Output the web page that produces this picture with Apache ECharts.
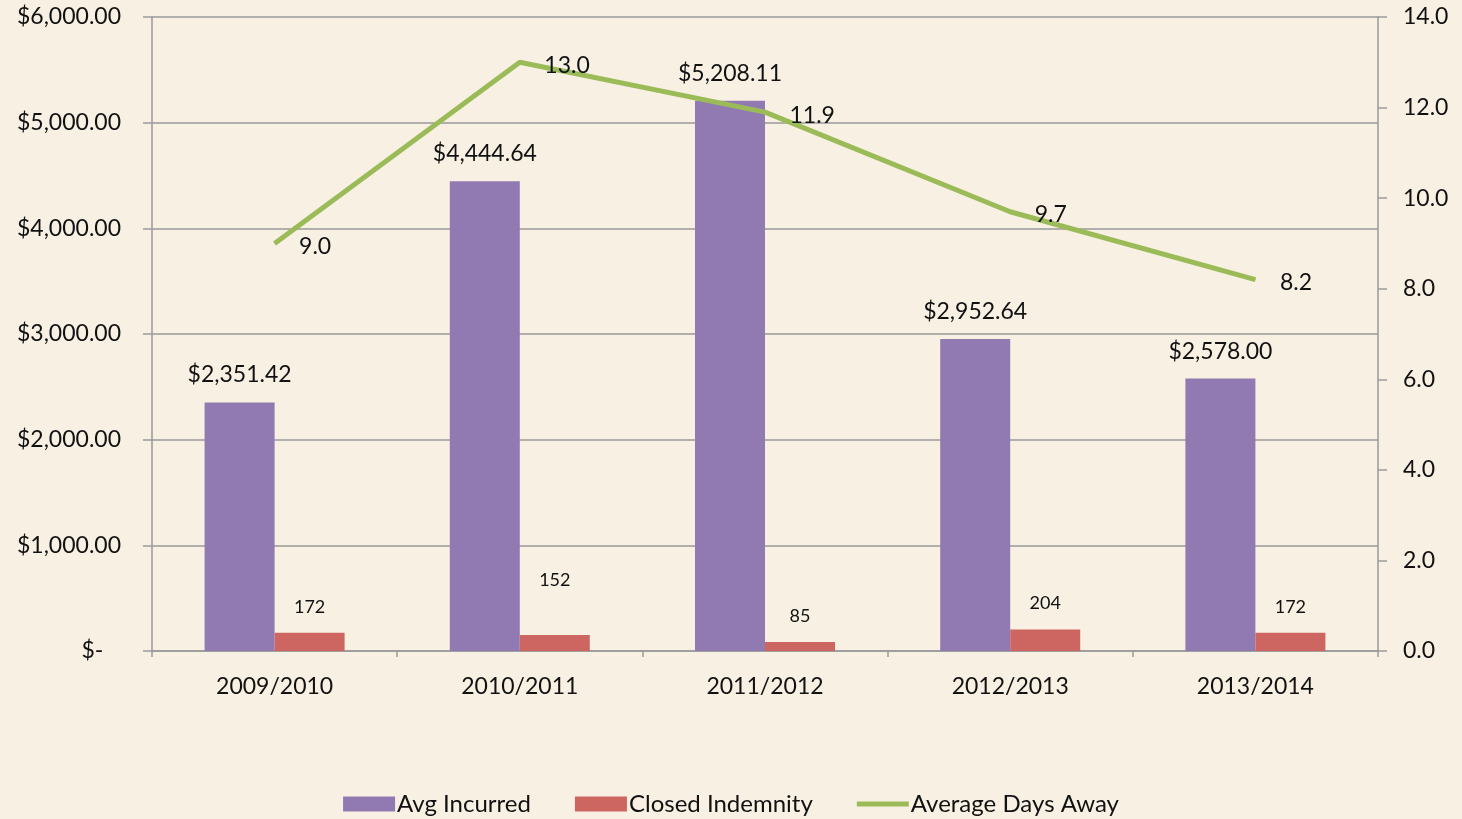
<!DOCTYPE html>
<html>
<head>
<meta charset="utf-8">
<script src="https://cdn.jsdelivr.net/npm/echarts@6/dist/echarts.min.js"></script>
<style>
  html, body { margin: 0; padding: 0; background: #f8f0e3; }
  #chart { width: 1462px; height: 819px; }
</style>
</head>
<body>
<div id="chart"></div>
<script>
  const categories = ['2009/2010', '2010/2011', '2011/2012', '2012/2013', '2013/2014']
  const avgIncurred = [2351.42, 4444.64, 5208.11, 2952.64, 2578.00]
  const closedIndemnity = [172, 152, 85, 204, 172]
  const avgDaysAway = [9.0, 13.0, 11.9, 9.7, 8.2]
  // label distance above the red bars (152 sits higher in the original)
  const closedLabelDist = [17, 46, 17, 17, 17]

  const font = 'Lato, "Open Sans", sans-serif'
  const grey = '#9a9a9a'

  const money = v => {
    if (v === 0) return '$-   '
    return '$' + v.toLocaleString('en-US', { minimumFractionDigits: 2, maximumFractionDigits: 2 })
  }

  const mychart = echarts.init(document.getElementById('chart'))
  const option = {
    backgroundColor: '#f8f0e3',
    textStyle: { fontFamily: font, color: '#111' },
    grid: { left: 152, right: 84, top: 17, bottom: 168, containLabel: false },
    legend: {
      bottom: -2,
      left: 'center',
      itemWidth: 52,
      itemHeight: 15,
      itemGap: 44,
      textStyle: { fontSize: 24, fontFamily: font, color: '#111', padding: [0, 0, 0, -3] },
      data: [
        { name: 'Avg Incurred', icon: 'rect' },
        { name: 'Closed Indemnity', icon: 'rect' },
        { name: 'Average Days Away', icon: 'path://M0,0 L52,0 L52,5 L0,5 Z', itemStyle: { color: '#9bbb59' } }
      ]
    },
    xAxis: {
      type: 'category',
      data: categories,
      boundaryGap: true,
      axisLine: { lineStyle: { color: grey, width: 1.5 } },
      axisTick: { show: true, length: 6, lineStyle: { color: grey, width: 1.5 } },
      axisLabel: { fontSize: 23, color: '#111', margin: 24, fontFamily: font }
    },
    yAxis: [
      {
        type: 'value',
        min: 0,
        max: 6000,
        interval: 1000,
        axisLine: { show: true, lineStyle: { color: grey, width: 1.5 } },
        axisTick: { show: true, length: 9, lineStyle: { color: grey, width: 1.5 } },
        splitLine: { show: true, lineStyle: { color: grey, width: 1.5 } },
        axisLabel: { fontSize: 23, color: '#111', margin: 31, formatter: money, fontFamily: font }
      },
      {
        type: 'value',
        min: 0,
        max: 14,
        interval: 2,
        axisLine: { show: true, lineStyle: { color: grey, width: 1.5 } },
        axisTick: { show: true, length: 9, lineStyle: { color: grey, width: 1.5 } },
        splitLine: { show: false },
        axisLabel: { fontSize: 23, color: '#111', margin: 25, formatter: v => v.toFixed(1), fontFamily: font }
      }
    ],
    series: [
      {
        name: 'Avg Incurred',
        type: 'bar',
        data: avgIncurred,
        barWidth: 70,
        barGap: '0%',
        itemStyle: { color: '#917ab1' },
        label: {
          show: true,
          position: 'top',
          distance: 16,
          fontSize: 23,
          color: '#111',
          fontFamily: font,
          formatter: p => money(p.value)
        }
      },
      {
        name: 'Closed Indemnity',
        type: 'bar',
        data: closedIndemnity.map((v, i) => ({
          value: v,
          label: { distance: closedLabelDist[i] }
        })),
        barWidth: 70,
        barGap: '0%',
        itemStyle: { color: '#cd6660' },
        label: {
          show: true,
          position: 'top',
          fontSize: 18,
          color: '#111',
          fontFamily: font
        }
      },
      {
        name: 'Average Days Away',
        type: 'line',
        yAxisIndex: 1,
        data: avgDaysAway,
        symbol: 'circle',
        symbolSize: 1,
        showSymbol: true,
        lineStyle: { color: '#9bbb59', width: 5 },
        itemStyle: { color: '#9bbb59' },
        label: {
          show: true,
          position: 'right',
          distance: 24,
          offset: [0, 3],
          fontSize: 23,
          color: '#111',
          fontFamily: font,
          formatter: p => p.value.toFixed(1)
        }
      }
    ]
  }
  mychart.setOption(option)
</script>
</body>
</html>
